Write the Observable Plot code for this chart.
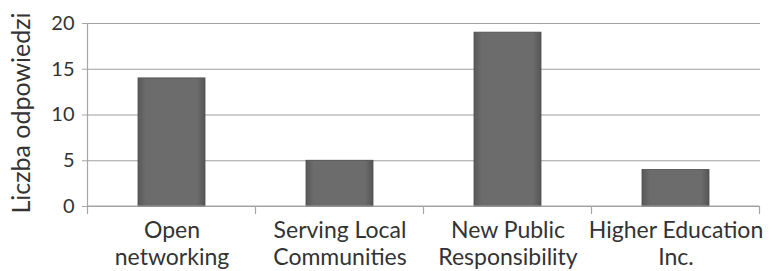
<!DOCTYPE html>
<html>
<head>
<meta charset="utf-8">
<script src="https://cdn.jsdelivr.net/npm/d3@7"></script>
<script src="https://cdn.jsdelivr.net/npm/@observablehq/plot@0.6"></script>
<style>
  html, body { margin: 0; padding: 0; background: #fff; }
  svg { font-family: Lato, "Open Sans", sans-serif; }
</style>
</head>
<body>
<div id="chart"></div>
<script>
const categories = ["Open\nnetworking", "Serving Local\nCommunities", "New Public\nResponsibility", "Higher Education\nInc."];
const values = [14, 5, 19, 4];
const yTicks = [0, 5, 10, 15, 20];
const yLabel = "Liczba odpowiedzi";

const data = categories.map((c, i) => ({category: c, value: values[i]}));

const axisLines = (index, scales, vals, dims) => {
  const g = d3.create("svg:g");
  const x = scales.x, y = scales.y;
  const dom = x.domain();
  const step = x.step();
  const start = x(dom[0]) - (step - x.bandwidth()) / 2;
  const y0 = y(0);
  for (let i = 0; i <= dom.length; i++) {
    const px = start + i * step;
    g.append("line").attr("x1", px).attr("x2", px).attr("y1", y0).attr("y2", y0 + 8)
      .attr("stroke", "#a6a6a6").attr("stroke-width", 1.2);
  }
  g.append("line").attr("x1", start).attr("x2", start + dom.length * step)
    .attr("y1", y0).attr("y2", y0).attr("stroke", "#a6a6a6").attr("stroke-width", 1.2);
  g.append("line").attr("x1", start).attr("x2", start)
    .attr("y1", y(20)).attr("y2", y0).attr("stroke", "#a6a6a6").attr("stroke-width", 1.2);
  return g.node();
};

const chart = Plot.plot({
  width: 777,
  height: 271,
  marginLeft: 87,
  marginRight: 17,
  marginTop: 23,
  marginBottom: 65,
  style: {fontFamily: "Lato, 'Open Sans', sans-serif", color: "#333", background: "#fff"},
  x: {domain: categories, padding: 0.6, paddingOuter: 0.3, align: 0.5},
  y: {domain: [0, 20]},
  marks: [
    Plot.ruleY(yTicks, {stroke: "#a0a0a0", strokeWidth: 1.2}),
    Plot.barY(data, {x: "category", y: "value", fill: "url(#barGrad)", stroke: "#4e4e4e", strokeWidth: 0.8}),
    axisLines,
    Plot.axisY({ticks: yTicks, tickSize: 5, tickPadding: 8, fontSize: 20, stroke: "#a6a6a6", fill: "#333", label: null}),
    Plot.axisX({tickSize: 0, tickPadding: 13, fontSize: 23, lineHeight: 1.15, fill: "#333", label: null}),
    Plot.text([yLabel], {frameAnchor: "left", rotate: -90, dx: -66, dy: -2, textAnchor: "middle", fontSize: 25, fill: "#333"})
  ]
});

const svg = d3.select(chart);
const defs = svg.insert("defs", ":first-child");
const grad = defs.append("linearGradient").attr("id", "barGrad").attr("x1", "0").attr("x2", "1").attr("y1", "0").attr("y2", "0");
grad.append("stop").attr("offset", "0%").attr("stop-color", "#5a5a5a");
grad.append("stop").attr("offset", "12%").attr("stop-color", "#6c6c6c");
grad.append("stop").attr("offset", "88%").attr("stop-color", "#6c6c6c");
grad.append("stop").attr("offset", "100%").attr("stop-color", "#555555");

document.getElementById("chart").append(chart);
</script>
</body>
</html>
